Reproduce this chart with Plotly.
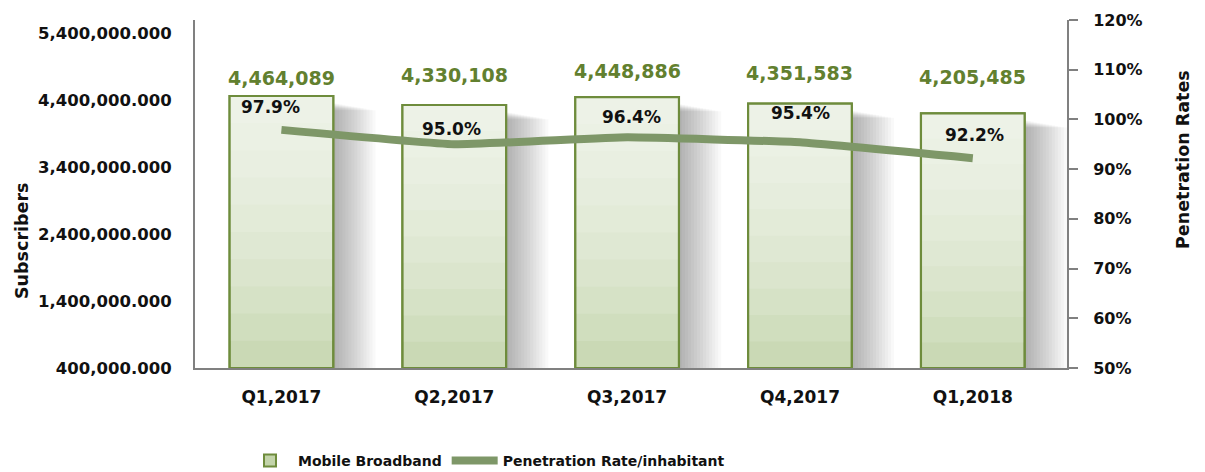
import plotly.graph_objects as go

categories = ["Q1,2017", "Q2,2017", "Q3,2017", "Q4,2017", "Q1,2018"]
subscribers = [4464089, 4330108, 4448886, 4351583, 4205485]
penetration = [97.9, 95.0, 96.4, 95.4, 92.2]
sub_labels = ["4,464,089", "4,330,108", "4,448,886", "4,351,583", "4,205,485"]
pen_labels = ["97.9%", "95.0%", "96.4%", "95.4%", "92.2%"]
left_ticks = [400000, 1400000, 2400000, 3400000, 4400000, 5400000]
right_ticks = [50, 60, 70, 80, 90, 100, 110, 120]
right_ticktext = ["50%", "60%", "70%", "80%", "90%", "100%", "110%", "120%"]

FONT = "DejaVu Sans"
Y0 = 400000
BW = 0.6
BAR_LINE = "#6e8c3c"
LINE_COL = "#7e9768"
VAL_COL = "#62802f"

# page body has an 8px margin: figure is drawn 8px lower/right
OFF = 8
W, H = 1205 - OFF, 472 - OFF

fig = go.Figure()

# soft shadow on the right side of bars
n_sh = 14
for i in range(1, n_sh + 1):
    fig.add_trace(go.Bar(
        x=categories, y=[v - Y0 - 100000 - 8000 * i for v in subscribers], base=Y0,
        width=BW, offset=-BW / 2 + 0.0175 * i,
        marker=dict(color="rgba(0,0,0,0.024)", line=dict(width=0)),
        showlegend=False, hoverinfo="skip"))

# main bar fill
fig.add_trace(go.Bar(
    x=categories, y=[v - Y0 for v in subscribers], base=Y0,
    width=BW, offset=-BW / 2, name="Mobile Broadband",
    marker=dict(color="#c3d4aa", line=dict(color=BAR_LINE, width=2)),
    hoverinfo="skip"))

# vertical gradient (lighter towards top)
n_gr = 10
for k in range(n_gr):
    f = k / n_gr
    fig.add_trace(go.Bar(
        x=categories,
        y=[(v - Y0) * (1 - f) for v in subscribers],
        base=[Y0 + (v - Y0) * f for v in subscribers],
        width=BW, offset=-BW / 2,
        marker=dict(color="rgba(255,255,255,0.13)", line=dict(width=0)),
        showlegend=False, hoverinfo="skip"))

# border on top
fig.add_trace(go.Bar(
    x=categories, y=[v - Y0 for v in subscribers], base=Y0,
    width=BW, offset=-BW / 2,
    marker=dict(color="rgba(0,0,0,0)", line=dict(color=BAR_LINE, width=2.2)),
    showlegend=False, hoverinfo="skip"))

fig.add_trace(go.Scatter(
    x=categories, y=penetration, yaxis="y2", mode="lines",
    name="Penetration Rate/inhabitant",
    line=dict(color=LINE_COL, width=8, shape="spline", smoothing=0.3)))

# bar value labels
bar_shift = [15, 27, 23, 28, 33]
for c, v, t, s in zip(categories, subscribers, sub_labels, bar_shift):
    fig.add_annotation(x=c, y=v, xref="x", yref="y", text=t, showarrow=False,
                       yanchor="bottom", yshift=s - 10,
                       font=dict(family=FONT, size=19, color=VAL_COL, weight="bold"))

# line value labels
pen_dx = [-11, -3, 4, 1, 2]
pen_dy = [23, 15, 20, 29, 23]
for c, v, t, dx, dy in zip(categories, penetration, pen_labels, pen_dx, pen_dy):
    fig.add_annotation(x=c, y=v, xref="x", yref="y2", text=t, showarrow=False,
                       xshift=dx, yshift=dy,
                       font=dict(family=FONT, size=17, color="#111111", weight="bold"))

# plot-area edges in screen pixels
PL, PR, PT, PB = 195, 1067, 20, 368
# axis titles
fig.add_annotation(xref="paper", yref="paper", x=(22 - PL) / (PR - PL), y=(PB - 241) / (PB - PT),
                   xanchor="center", yanchor="middle",
                   text="Subscribers", showarrow=False, textangle=-90,
                   font=dict(family=FONT, size=17.5, color="#111111", weight="bold"))
fig.add_annotation(xref="paper", yref="paper", x=(1183 - PL) / (PR - PL), y=(PB - 160) / (PB - PT),
                   xanchor="center", yanchor="middle",
                   text="Penetration Rates", showarrow=False, textangle=-90,
                   font=dict(family=FONT, size=17.5, color="#111111", weight="bold"))

fig.update_layout(
    width=W, height=H,
    margin=dict(l=PL - OFF, r=1205 - PR, t=PT - OFF, b=472 - PB, autoexpand=False),
    paper_bgcolor="white", plot_bgcolor="white",
    barmode="overlay", bargap=0.4,
    font=dict(family=FONT, size=15, color="#111111"),
    xaxis=dict(showline=True, linecolor="#808080", linewidth=2, showgrid=False,
               ticks="", ticklabelstandoff=13,
               tickfont=dict(family=FONT, size=17, color="#111111", weight="bold")),
    yaxis=dict(range=[Y0, 5600000], tickvals=left_ticks, tickformat=",.3f",
               showline=True, linecolor="#808080", linewidth=2, showgrid=False,
               zeroline=False, ticks="", ticklabelstandoff=18,
               tickfont=dict(family=FONT, size=16.5, color="#111111", weight="bold")),
    yaxis2=dict(range=[50, 120], tickvals=right_ticks, ticktext=right_ticktext,
                overlaying="y", side="right", showline=True, linecolor="#808080",
                linewidth=2, showgrid=False, zeroline=False,
                ticks="outside", ticklen=9, tickwidth=2, tickcolor="#808080",
                ticklabelstandoff=12,
                tickfont=dict(family=FONT, size=16, color="#111111", weight="bold")),
    legend=dict(orientation="h", xref="paper", yref="container",
                x=(486 - PL) / (PR - PL), y=(472 - 461) / H,
                xanchor="center", yanchor="middle",
                font=dict(family=FONT, size=14, color="#111111", weight="bold"),
                itemwidth=46, bgcolor="rgba(0,0,0,0)"),
    showlegend=True,
)

fig.write_html("out.html")
